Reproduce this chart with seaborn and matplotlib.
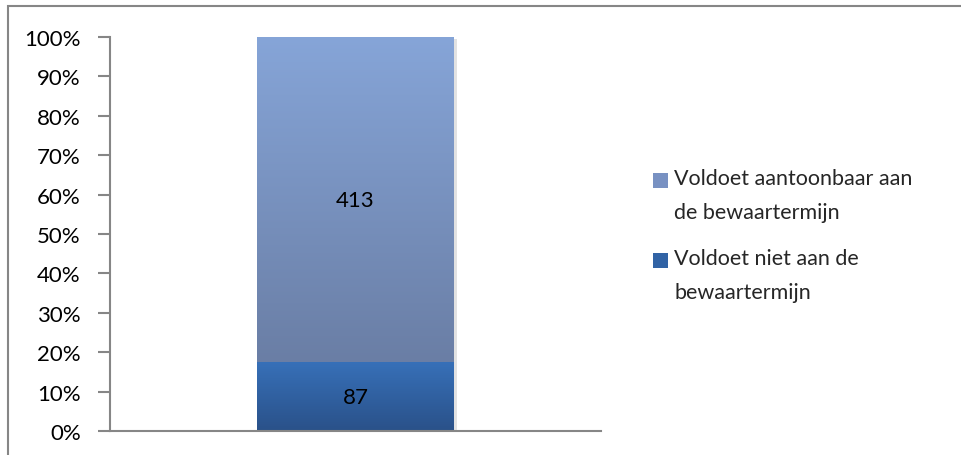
import numpy as np
import pandas as pd
import matplotlib
matplotlib.use("Agg")
import matplotlib.pyplot as plt
import seaborn as sns
from matplotlib.colors import LinearSegmentedColormap
from matplotlib.patches import Rectangle, Patch
from matplotlib.legend_handler import HandlerPatch

# data
categories = [""]
niet_voldoet = [87]
wel_voldoet = [413]
series_labels = ["Voldoet niet aan de\nbewaartermijn", "Voldoet aantoonbaar aan\nde bewaartermijn"]
tick_labels = ["0%", "10%", "20%", "30%", "40%", "50%", "60%", "70%", "80%", "90%", "100%"]

# gradient colours (bottom, top) per series
grad_niet = ("#2a5189", "#3770b8")
grad_wel = ("#6a7ea5", "#86a5d8")

sns.set_style("white")
plt.rcParams["font.family"] = ["Lato", "DejaVu Sans"]

df = pd.DataFrame({"cat": categories, "niet": niet_voldoet, "wel": wel_voldoet})
df["total"] = df["niet"] + df["wel"]
df["p_niet"] = df["niet"] / df["total"]
df["p_top"] = 1.0  # stacked top reaches 100%

fig = plt.figure(figsize=(9.61, 4.56), dpi=100)
ax = fig.add_axes([110 / 961, 1 - 432 / 456, 491 / 961, 394 / 456])

# draw the full stack first, then the bottom layer over it
sns.barplot(data=df, x="cat", y="p_top", color=grad_wel[1], width=0.4, ax=ax, saturation=1)
sns.barplot(data=df, x="cat", y="p_niet", color=grad_niet[1], width=0.4, ax=ax, saturation=1)

# replace flat fills with vertical gradients
grads = [grad_wel, grad_niet]
grad = np.linspace(0, 1, 256).reshape(-1, 1)
for patch, (c0, c1) in zip(ax.patches, grads):
    x, y = patch.get_x(), patch.get_y()
    w, h = patch.get_width(), patch.get_height()
    if patch is ax.patches[0]:
        # top segment starts where the bottom one ends
        y0 = df["p_niet"].iloc[0]
    else:
        y0 = y
    cmap = LinearSegmentedColormap.from_list("g", [c0, c1])
    shadow = Rectangle((x + 0.006, y0 - 0.004), w, (y + h) - y0, facecolor="#d0d0d0",
                       edgecolor="none", zorder=1.5, alpha=0.6)
    ax.add_patch(shadow)
    ax.imshow(grad, extent=[x, x + w, y0, y + h], origin="lower", aspect="auto",
              cmap=cmap, zorder=2.5 if patch is ax.patches[1] else 2)
    patch.set_visible(False)

ax.set_xlim(-0.5, 0.5)
ax.set_ylim(0, 1)

# segment labels
for i, row in df.iterrows():
    ax.text(i, row["p_niet"] / 2, str(row["niet"]), ha="center", va="center",
            fontsize=16, color="black", zorder=5)
    ax.text(i, row["p_niet"] + (1 - row["p_niet"]) / 2, str(row["wel"]), ha="center",
            va="center", fontsize=16, color="black", zorder=5)

ax.set_yticks(np.linspace(0, 1, len(tick_labels)))
ax.set_yticklabels(tick_labels)
ax.set_xticks([])
ax.set_xlabel("")
ax.set_ylabel("")
ax.tick_params(axis="y", direction="out", length=9, width=1.5, color="#868686",
               labelsize=16, pad=12, labelcolor="black", left=True)
for side in ["top", "right"]:
    ax.spines[side].set_visible(False)
for side in ["left", "bottom"]:
    ax.spines[side].set_color("#868686")
    ax.spines[side].set_linewidth(1.5)


# legend square sits next to the first line of a wrapped label
def top_square(legend, orig_handle, xdescent, ydescent, width, height, fontsize):
    return Rectangle((-xdescent, -ydescent + height - 0.67 * width), width, width)


handles = [Patch(facecolor="#7891c2", edgecolor="none"),
           Patch(facecolor="#3163a5", edgecolor="none")]
leg = fig.legend(handles, [series_labels[1], series_labels[0]], loc="center left",
                 bbox_to_anchor=(642 / 961, 1 - 236 / 456), frameon=False, fontsize=15.5,
                 handlelength=0.7, handleheight=2.3, handletextpad=0.3, labelspacing=1.2,
                 borderpad=0, handler_map={Patch: HandlerPatch(patch_func=top_square)})
for t in leg.get_texts():
    t.set_linespacing(1.9)

# outer chart frame (only top and left visible in the crop)
fig.patches.append(Rectangle((8 / 961, -0.1), 1.2, 1.1 - 7 / 456, transform=fig.transFigure,
                             fill=False, edgecolor="#868686", linewidth=1.5))

fig.savefig("out.png", dpi=100)
